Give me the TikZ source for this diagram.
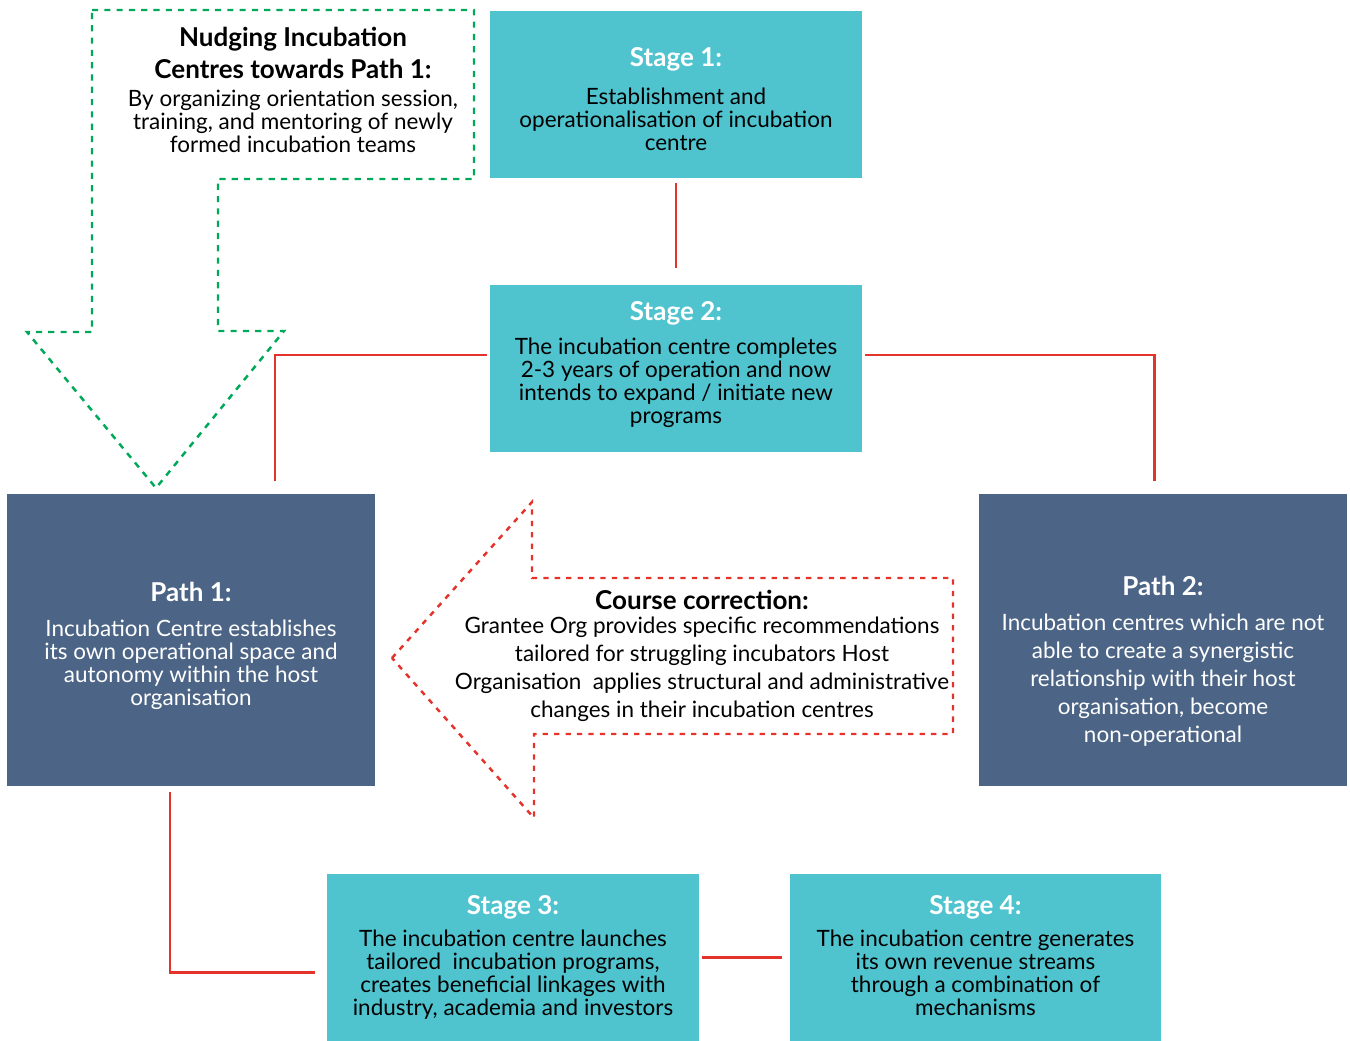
\documentclass[tikz,border=0pt]{standalone}
\usepackage{fontspec}
\setmainfont{Lato}
\usetikzlibrary{calc,positioning}
\definecolor{stageteal}{HTML}{4FC4CF}
\definecolor{pathslate}{HTML}{4C6586}
\definecolor{nudgegreen}{HTML}{00A859}
\definecolor{linkred}{HTML}{E4332A}
\newcommand{\boxtitle}{\bfseries\fontsize{14.8}{16}\selectfont}
\begin{document}
\begin{tikzpicture}[x=0.02cm,y=-0.02cm,
		stagebox/.style={fill=stageteal,minimum width=7.44cm,minimum height=3.36cm,inner sep=0pt},
		pathbox/.style={fill=pathslate,minimum width=7.36cm,minimum height=5.84cm,inner sep=0pt},
		boxtext/.style={align=center,inner sep=0pt,font=\fontsize{12.8}{13.1}\selectfont},
		widetext/.style={align=center,inner sep=0pt,font=\fontsize{12.8}{15.9}\selectfont},
		link/.style={draw=linkred,line width=1.7pt},
		nudge/.style={draw=nudgegreen,line width=1.4pt,dash pattern=on 3.5pt off 3.5pt},
		corr/.style={draw=linkred,line width=1.4pt,dash pattern=on 3pt off 3.5pt}]
		\useasboundingbox (0,0) rectangle (1350,1041);
		
		\node[stagebox] (s1) at (676,94.5) {};
		\node[stagebox] (s2) at (676,368.5) {};
		\node[pathbox] (p1) at (191,640) {};
		\node[pathbox] (p2) at (1163,640) {};
		\node[stagebox] (s3) at (513,957.5) {};
		\node[stagebox] (s4) at (975.5,957.5) {};
		
		\node[boxtext] (s1txt) at ($(s1)+(0,4.5)$) {{\boxtitle\color{white}Stage 1:}\\[8.8pt]Establishment and\\operationalisation of incubation\\centre};
		\node[boxtext] (s2txt) at ($(s2)+(0,-4)$) {{\boxtitle\color{white}Stage 2:}\\[6pt]The incubation centre completes\\2-3 years of operation and now\\intends to expand / initiate new\\programs};
		\node[boxtext,text=white] (p1txt) at ($(p1)+(0,6)$) {{\boxtitle Path 1:}\\[7.2pt]Incubation Centre establishes\\its own operational space and\\autonomy within the host\\organisation};
		\node[widetext,text=white] (p2txt) at ($(p2)+(0,21)$) {{\boxtitle Path 2:}\\[4.3pt]Incubation centres which are not\\able to create a synergistic\\relationship with their host\\organisation, become\\non-operational};
		\node[boxtext] (s3txt) at ($(s3)+(0,0)$) {{\boxtitle\color{white}Stage 3:}\\[5pt]The incubation centre launches\\tailored\ \ incubation programs,\\creates beneficial linkages with\\industry, academia and investors};
		\node[boxtext] (s4txt) at ($(s4)+(0,-2)$) {{\boxtitle\color{white}Stage 4:}\\[5pt]The incubation centre generates\\its own revenue streams\\through a combination of\\mechanisms};
		
		\draw[link] ($(s1.south)+(0,4)$) -- ($(s2.north)+(0,-16)$);
		\draw[link] ($(s2.west)+(-3,-13.5)$) -| ($(p1.north)+(84,-13)$);
		\draw[link] ($(s2.east)+(3,-13.5)$) -| ($(p2.north)+(-9,-13)$);
		\draw[link] ($(p1.south)+(-21,6)$) |- ($(s3.west)+(-12,14.5)$);
		\draw[link] ($(s3.east)+(3,0)$) -- ($(s4.west)+(-7,0)$);
		
		\draw[nudge] (92,10) -- (474,10) -- (474,179) -- (218,179) -- (218,331) -- (284,331) -- (156,488) -- (27,332) -- (92,332) -- cycle;
		\node[boxtext] (nudgetxt) at (293,90) {{\boxtitle Nudging Incubation}\\[3.7pt]{\boxtitle Centres towards Path 1:}\\[2.7pt]By organizing orientation session,\\training, and mentoring of newly\\formed incubation teams};
		
		\draw[corr] (392,658) -- (532,502) -- (532,578) -- (953,578) -- (953,734) -- (534,734) -- (534,818) -- cycle;
		\node[widetext] (corrtxt) at (702,656) {{\boxtitle Course correction:}\\[-2pt]Grantee Org provides specific recommendations\\tailored for struggling incubators Host\\Organisation\ \ applies structural and administrative\\changes in their incubation centres};
\end{tikzpicture}
\end{document}
